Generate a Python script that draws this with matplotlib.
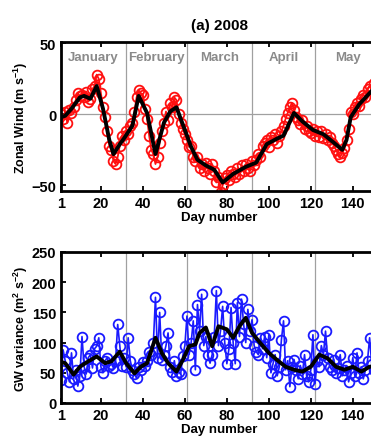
import matplotlib
matplotlib.use("Agg")
import matplotlib.pyplot as plt

plt.rcParams['font.family'] = ['Liberation Sans', 'DejaVu Sans']
plt.rcParams['mathtext.fontset'] = 'custom'
plt.rcParams['mathtext.rm'] = 'Liberation Sans:bold'
plt.rcParams['mathtext.default'] = 'rm'

title = "(a) 2008"
months = ["January", "February", "March", "April", "May"]
month_starts = [1, 32, 61, 92, 122, 153]
xticks = [1, 20, 40, 60, 80, 100, 120, 140]

days = list(range(1, 153))

wind_daily = [0, -3, 2, -6, 3, 1, 5, 10, 15, 13,
              14, 12, 16, 9, 11, 18, 20, 28, 25, 15,
              5, -2, -12, -22, -25, -33, -35, -30, -22, -15,
              -18, -12, -14, -8, -6, 2, 12, 17, 15, 14,
              4, -3, -15, -25, -28, -35, -30, -20, -12, -6,
              2, -4, 8, 5, 12, 10, 0, -6, -10, -14,
              -18, -23, -22, -30, -33, -30, -38, -35, -40, -34,
              -38, -42, -35, -40, -48, -44, -55, -50, -45, -43,
              -46, -40, -42, -44, -38, -42, -36, -40, -35, -38,
              -40, -33, -36, -32, -28, -30, -22, -20, -18, -23,
              -16, -18, -14, -20, -15, -12, -8, -3, 1, 5,
              8, 3, -2, -4, -7, -4, -10, -8, -12, -13,
              -10, -15, -12, -16, -12, -17, -14, -18, -16, -20,
              -22, -25, -28, -30, -27, -24, -18, -10, 2, 0,
              5, 8, 6, 11, 14, 12, 18, 20, 17, 22, 20, 24]

wind_smooth_days = [1, 3, 6, 10, 12, 15, 18, 21, 24, 26, 29, 31, 35, 38, 42, 46,
                    50, 53, 56, 60, 63, 66, 70, 74, 78, 83, 89, 94, 99, 104, 107,
                    112, 116, 121, 126, 131, 135, 137, 139, 143, 148, 152]
wind_smooth = [-2, -1, 4, 12, 13, 11, 20, 4, -18, -28, -21, -17, -8, 13, 1, -28,
               -6, 2, 5, -11, -23, -32, -36, -39, -48, -42, -37, -34, -21, -17, -15,
               1, -5, -11, -14, -20, -25, -18, -2, 7, 15, 21]

gw_daily = [38, 88, 70, 50, 35, 83, 40, 55, 28, 45,
            110, 60, 48, 75, 80, 58, 90, 94, 108, 60,
            50, 70, 75, 62, 65, 58, 70, 130, 95, 62,
            75, 60, 108, 70, 55, 48, 41, 60, 55, 68,
            62, 70, 85, 80, 100, 175, 75, 150, 72, 80,
            95, 116, 60, 52, 70, 44, 52, 48, 78, 95,
            144, 80, 100, 136, 55, 163, 120, 180, 95, 110,
            80, 66, 80, 110, 186, 95, 120, 160, 100, 65,
            90, 158, 100, 65, 166, 110, 172, 130, 100, 155,
            120, 138, 95, 85, 80, 108, 90, 110, 75, 113,
            50, 65, 80, 45, 60, 105, 136, 55, 70, 27,
            60, 72, 55, 40, 62, 48, 80, 45, 35, 55,
            113, 32, 70, 60, 95, 80, 119, 75, 60, 55,
            72, 50, 58, 80, 45, 55, 62, 35, 50, 75,
            45, 83, 50, 60, 40, 55, 70, 108, 65, 55, 75, 60]

gw_smooth_days = [1, 3, 7, 10, 14, 18, 22, 25, 29, 32, 36, 39, 42, 46, 49, 52, 56,
                  59, 62, 65, 67, 70, 73, 76, 80, 83, 86, 89, 92, 96, 100, 104,
                  108, 112, 116, 120, 124, 128, 132, 136, 140, 144, 148, 152]
gw_smooth = [68, 66, 47, 60, 69, 77, 66, 69, 85, 66, 49, 60, 66, 108, 83, 66, 52,
             71, 94, 97, 116, 125, 94, 127, 122, 108, 127, 141, 116, 99, 83, 71,
             60, 55, 52, 60, 80, 74, 60, 55, 60, 52, 60, 62]

W, H = 371, 439
fig = plt.figure(figsize=(W / 100, H / 100), dpi=100)

left = 61 / W
width = 317 / W
ax1 = fig.add_axes([left, (H - 192) / H, width, 149 / H])
ax2 = fig.add_axes([left, (H - 404) / H, width, 151 / H])

grid_c = '#a0a0a0'
for ax in (ax1, ax2):
    for m in month_starts[1:]:
        ax.axvline(m, color=grid_c, lw=0.9, zorder=1)

ax1.axhline(0, color=grid_c, lw=0.9, zorder=1)

ax1.plot(days, wind_daily, '-o', color='#ff1010', lw=1.3, ms=7, mfc='none',
         mew=1.3, zorder=2)
ax1.plot(wind_smooth_days, wind_smooth, '-', color='black', lw=2.8, zorder=3)

ax2.plot(days, gw_daily, '-o', color='#1a1aff', lw=1.2, ms=7, mfc='none',
         mew=1.3, zorder=2)
ax2.plot(gw_smooth_days, gw_smooth, '-', color='black', lw=2.8, zorder=3)

for i, name in enumerate(months):
    cx = (month_starts[i] + month_starts[i + 1]) / 2
    ax1.text(cx, 40.5, name, color='#8a8a8a', fontsize=9.5, fontweight='bold',
             ha='center', va='center', zorder=4)

ax1.set_ylim(-54, 51)
ax1.set_yticks([-50, 0, 50])
ax2.set_ylim(0, 250)
ax2.set_yticks([0, 50, 100, 150, 200, 250])

for ax in (ax1, ax2):
    ax.set_xlim(1, 152)
    ax.set_xticks(xticks)
    ax.tick_params(direction='in', top=True, right=True, length=3.5, width=1.3,
                   labelsize=10.5, pad=3.5)
    for lab in ax.get_xticklabels() + ax.get_yticklabels():
        lab.set_fontweight('bold')
    for s in ax.spines.values():
        s.set_linewidth(2.0)

ax1.set_title(title, fontsize=11, fontweight='bold', pad=9)
ax1.set_xlabel("Day number", fontsize=9.5, fontweight='bold', labelpad=1)
ax2.set_xlabel("Day number", fontsize=9.5, fontweight='bold', labelpad=1)
ax1.set_ylabel("Zonal Wind (m s$^{-1}$)", fontsize=9, fontweight='bold', labelpad=1)
ax2.set_ylabel("GW variance (m$^{2}$ s$^{-2}$)", fontsize=9, fontweight='bold', labelpad=1)

fig.savefig("out.png", dpi=100)
